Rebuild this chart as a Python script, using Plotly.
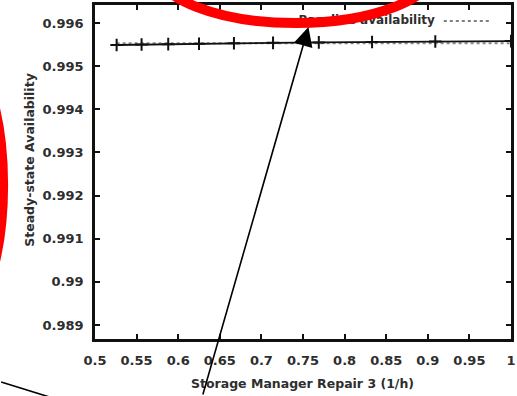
import plotly.graph_objects as go

# ---- data ----
repair_rate = [0.526, 0.556, 0.588, 0.625, 0.667, 0.714, 0.769, 0.833, 0.909, 1.0]
availability = [0.99549, 0.99550, 0.99551, 0.99552, 0.99553, 0.99554, 0.99555, 0.99556, 0.99557, 0.99558]
baseline_value = 0.99553
baseline = [baseline_value] * len(repair_rate)
x_ticks = [0.5, 0.55, 0.6, 0.65, 0.7, 0.75, 0.8, 0.85, 0.9, 0.95, 1]
x_tick_labels = ["0.5", "0.55", "0.6", "0.65", "0.7", "0.75", "0.8", "0.85", "0.9", "0.95", "1"]
y_ticks = [0.989, 0.99, 0.991, 0.992, 0.993, 0.994, 0.995, 0.996]
y_tick_labels = ["0.989", "0.99", "0.991", "0.992", "0.993", "0.994", "0.995", "0.996"]
legend_label = "Baseline availability"

# ---- layout geometry (pixels) ----
W, H = 517, 396
L, R, T, B = 95, 1, 5, 57
PW, PH = W - L - R, H - T - B
X_RANGE = [0.5, 1.0]
Y_RANGE = [0.988675, 0.996417]

def px(x):
    return (x - L) / PW

def py(y):
    return (H - B - y) / PH

def data_x(p):
    return X_RANGE[0] + (p - L) / PW * (X_RANGE[1] - X_RANGE[0])

def data_y(p):
    return Y_RANGE[0] + (H - B - p) / PH * (Y_RANGE[1] - Y_RANGE[0])

TXT = "#2e2e2e"
FONT = "DejaVu Sans"

fig = go.Figure()
fig.add_trace(go.Scatter(
    x=repair_rate, y=baseline, mode="lines",
    line=dict(color="#8a8a8a", width=2.2, dash="dot"),
    showlegend=False, hoverinfo="skip"))
fig.add_trace(go.Scatter(
    x=repair_rate, y=availability, mode="lines+markers",
    line=dict(color="#111111", width=1.8),
    marker=dict(symbol="cross-thin", size=9, line=dict(color="#111111", width=2)),
    showlegend=False))
# legend label (gnuplot style: text then sample), placed under the red ring
fig.add_trace(go.Scatter(
    x=[data_x(439)], y=[data_y(21)], mode="text", text=[legend_label],
    textposition="middle left", cliponaxis=False,
    textfont=dict(family=FONT, size=12, color=TXT, weight="bold"),
    showlegend=False, hoverinfo="skip"))

axis_common = dict(
    showgrid=False, zeroline=False, showline=True, linecolor="#111111", linewidth=2.5,
    mirror="ticks", ticks="inside", ticklen=5, tickwidth=1.5, tickcolor="#111111",
    tickfont=dict(family=FONT, size=13, color=TXT, weight="bold"),
)
fig.update_xaxes(range=X_RANGE, tickmode="array", tickvals=x_ticks, ticktext=x_tick_labels,
                 ticklabelstandoff=8, ticklabeloverflow="allow", **axis_common)
fig.update_yaxes(range=Y_RANGE, tickmode="array", tickvals=y_ticks, ticktext=y_tick_labels,
                 ticklabelstandoff=6, **axis_common)

shapes = [
    # legend sample
    dict(type="line", xref="paper", yref="paper", x0=px(448), x1=px(496), y0=py(21), y1=py(21),
         line=dict(color="#555555", width=1.5, dash="dot"), layer="above"),
    # red ring at top
    dict(type="circle", xref="paper", yref="paper",
         x0=px(298 - 142), x1=px(298 + 142), y0=py(-32 - 55), y1=py(-32 + 55),
         line=dict(color="#ff0000", width=10), layer="above"),
    # red ring at left
    dict(type="circle", xref="paper", yref="paper",
         x0=px(-58 - 60), x1=px(-58 + 60), y0=py(185 - 150), y1=py(185 + 150),
         line=dict(color="#ff0000", width=10), layer="above"),
    # black line at bottom left
    dict(type="line", xref="paper", yref="paper", x0=px(0), x1=px(62), y0=py(382), y1=py(401),
         line=dict(color="#000000", width=1.6), layer="above"),
]

annotations = [
    dict(xref="paper", yref="paper", x=px(305), y=py(383), text="Storage Manager Repair 3 (1/h)",
         showarrow=False, font=dict(family=FONT, size=12.5, color=TXT, weight="bold"),
         xanchor="center", yanchor="middle"),
    dict(xref="paper", yref="paper", x=px(28), y=py(160), text="Steady-state Availability",
         showarrow=False, textangle=-90, font=dict(family=FONT, size=12.5, color=TXT, weight="bold"),
         xanchor="center", yanchor="middle"),
    # black arrow
    dict(xref="paper", yref="paper", x=px(311), y=py(27), ax=205 - 311, ay=398 - 27,
         axref="pixel", ayref="pixel", text="", showarrow=True,
         arrowhead=2, arrowsize=2.4, arrowwidth=1.6, arrowcolor="#000000"),
]

fig.update_layout(
    width=W, height=H, margin=dict(l=L, r=R, t=T, b=B, pad=0),
    paper_bgcolor="white", plot_bgcolor="white",
    shapes=shapes, annotations=annotations, showlegend=False,
)

fig.write_html("out.html")
